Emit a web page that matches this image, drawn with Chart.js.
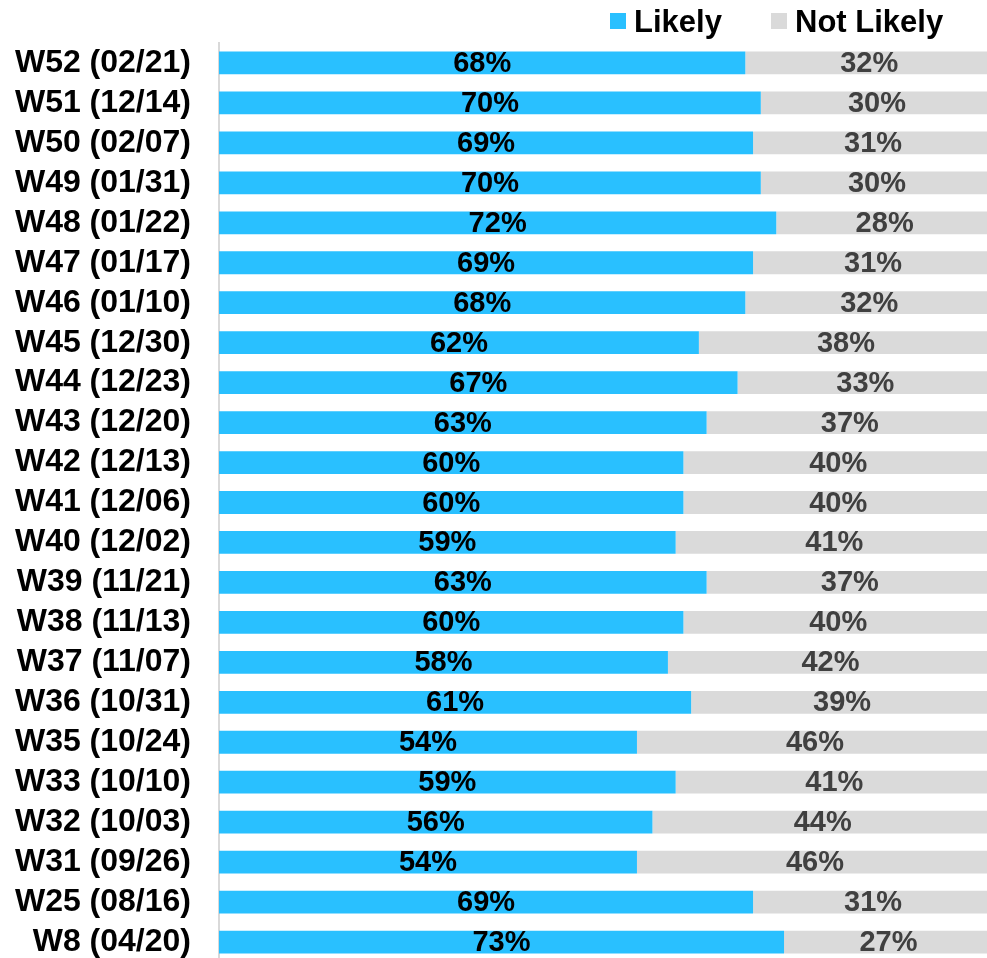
<!DOCTYPE html>
<html>
<head>
<meta charset="utf-8">
<script src="https://cdn.jsdelivr.net/npm/chart.js@4"></script>
<style>
  html, body { margin: 0; padding: 0; background: #fff; overflow: hidden; }
  #wrap { position: relative; width: 987px; height: 958px; overflow: hidden; }
  #chart { position: absolute; left: 0; top: 0; }
  .legend { position: absolute; top: 2px; font: bold 31px "Liberation Sans", Arial, sans-serif; color: #000; line-height: 40px; white-space: nowrap; }
  .legend i { position: absolute; top: 11px; width: 16px; height: 16px; }
</style>
</head>
<body>
<div id="wrap">
  <canvas id="chart" width="993" height="962"></canvas>
  <div class="legend" style="left:610px"><i style="left:0;background:#29C0FF"></i><span style="margin-left:24px">Likely</span></div>
  <div class="legend" style="left:771px"><i style="left:0;background:#DADADA"></i><span style="margin-left:24px">Not Likely</span></div>
</div>
<script>
const labels = ['W52 (02/21)', 'W51 (12/14)', 'W50 (02/07)', 'W49 (01/31)', 'W48 (01/22)', 'W47 (01/17)',
  'W46 (01/10)', 'W45 (12/30)', 'W44 (12/23)', 'W43 (12/20)', 'W42 (12/13)', 'W41 (12/06)',
  'W40 (12/02)', 'W39 (11/21)', 'W38 (11/13)', 'W37 (11/07)', 'W36 (10/31)', 'W35 (10/24)',
  'W33 (10/10)', 'W32 (10/03)', 'W31 (09/26)', 'W25 (08/16)', 'W8 (04/20)']
const likely = [68, 70, 69, 70, 72, 69, 68, 62, 67, 63, 60, 60, 59, 63, 60, 58, 61, 54, 59, 56, 54, 69, 73]
const notLikely = [32, 30, 31, 30, 28, 31, 32, 38, 33, 37, 40, 40, 41, 37, 40, 42, 39, 46, 41, 44, 46, 31, 27]

const FONT = '"Liberation Sans", Arial, sans-serif'

// draw the percent in the middle of each bar segment
const barLabels = {
  id: 'barLabels',
  afterDatasetsDraw(chart) {
    const ctx = chart.ctx
    ctx.save()
    ctx.font = 'bold 29px ' + FONT
    ctx.textAlign = 'center'
    ctx.textBaseline = 'middle'
    chart.data.datasets.forEach((ds, i) => {
      ctx.fillStyle = i === 0 ? '#000000' : '#404040'
      chart.getDatasetMeta(i).data.forEach((bar, j) => {
        const x = (bar.base + bar.x) / 2
        ctx.fillText(ds.data[j] + '%', x, bar.y + 1)
      })
    })
    ctx.restore()
  }
}

new Chart(document.getElementById('chart'), {
  type: 'bar',
  data: {
    labels: labels,
    datasets: [
      { label: 'Likely', data: likely, backgroundColor: '#29C0FF' },
      { label: 'Not Likely', data: notLikely, backgroundColor: '#DADADA' }
    ]
  },
  options: {
    indexAxis: 'y',
    responsive: false,
    animation: false,
    devicePixelRatio: 1,
    layout: { padding: { top: 43, right: 0, bottom: 0, left: 0 } },
    datasets: { bar: { barPercentage: 0.57, categoryPercentage: 1 } },
    plugins: { legend: { display: false }, tooltip: { enabled: false } },
    scales: {
      x: { stacked: true, min: 0, max: 100, display: false },
      y: {
        stacked: true,
        afterFit: (scale) => {
          scale.width = 219
          scale.paddingTop = 0
          scale.paddingBottom = 0
        },
        grid: { display: false, drawTicks: false },
        border: { color: '#D9D9D9', width: 2 },
        ticks: { autoSkip: false, padding: 28, color: '#000', font: { family: FONT, size: 32, weight: 'bold' } }
      }
    }
  },
  plugins: [barLabels]
})
</script>
</body>
</html>
